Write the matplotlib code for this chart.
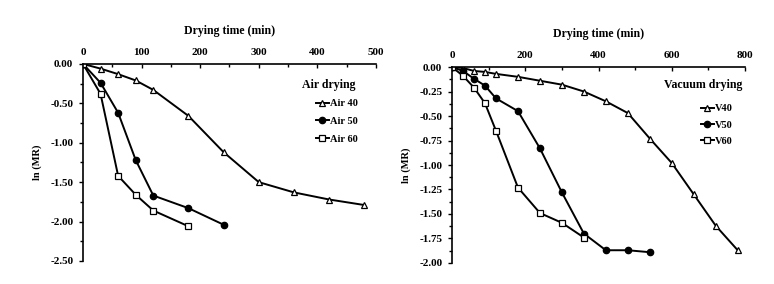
import matplotlib
matplotlib.use("Agg")
import matplotlib.pyplot as plt
from matplotlib.ticker import MultipleLocator, FormatStrFormatter

plt.rcParams['font.family'] = ['Liberation Serif', 'DejaVu Serif']
plt.rcParams['font.weight'] = 'bold'

# Air drying
t_air40 = [0, 30, 60, 90, 120, 180, 240, 300, 360, 420, 480]
air40 = [0, -0.06, -0.13, -0.21, -0.33, -0.66, -1.12, -1.50, -1.63, -1.72, -1.79]
t_air50 = [0, 30, 60, 90, 120, 180, 240]
air50 = [0, -0.24, -0.62, -1.22, -1.67, -1.83, -2.04]
t_air60 = [0, 30, 60, 90, 120, 180]
air60 = [0, -0.38, -1.42, -1.66, -1.86, -2.06]

# Vacuum drying
t_v40 = [0, 30, 60, 90, 120, 180, 240, 300, 360, 420, 480, 540, 600, 660, 720, 780]
v40 = [0, -0.01, -0.04, -0.05, -0.07, -0.10, -0.14, -0.18, -0.25, -0.35, -0.47,
       -0.73, -0.98, -1.30, -1.62, -1.87]
t_v50 = [0, 30, 60, 90, 120, 180, 240, 300, 360, 420, 480, 540]
v50 = [0, -0.04, -0.12, -0.19, -0.32, -0.45, -0.83, -1.28, -1.70, -1.87, -1.87, -1.89]
t_v60 = [0, 30, 60, 90, 120, 180, 240, 300, 360]
v60 = [0, -0.09, -0.21, -0.37, -0.65, -1.23, -1.49, -1.59, -1.74]

W, H = 774, 284
fig = plt.figure(figsize=(W / 100, H / 100), dpi=100)
ax1 = fig.add_axes([0.1072, 0.081, 0.3786, 0.694])
ax2 = fig.add_axes([0.584, 0.074, 0.3786, 0.690])

mk = dict(color='black', lw=1.4, markersize=4.6, markeredgewidth=0.9)


def style(ax, xmax, xmaj, ymin, ymaj):
    ax.set_xlim(0, xmax)
    ax.set_ylim(ymin, 0)
    for s in ['right', 'bottom']:
        ax.spines[s].set_visible(False)
    ax.spines['top'].set_linewidth(1.2)
    ax.spines['left'].set_linewidth(1.2)
    ax.xaxis.tick_top()
    ax.xaxis.set_label_position('top')
    ax.xaxis.set_major_locator(MultipleLocator(xmaj))
    ax.xaxis.set_minor_locator(MultipleLocator(xmaj / 2))
    ax.yaxis.set_major_locator(MultipleLocator(ymaj))
    ax.yaxis.set_minor_locator(MultipleLocator(ymaj / 2))
    ax.yaxis.set_major_formatter(FormatStrFormatter('%.2f'))
    ax.tick_params(axis='x', which='both', direction='in', labelsize=8, pad=5)
    ax.tick_params(axis='y', which='both', direction='out', labelsize=8, pad=4)
    ax.tick_params(which='major', length=3, width=1)
    ax.tick_params(which='minor', length=2, width=1)
    ax.set_xlabel('Drying time (min)', fontsize=8.5, fontweight='bold', labelpad=10)
    ax.set_ylabel('ln (MR)', fontsize=7.5, fontweight='bold', labelpad=6)


def add_legend(ax, title, title_right, entry_right, title_y, top_px, spacing):
    fig.text(title_right / W, 1 - title_y / H, title, fontsize=8.6, fontweight='bold',
             ha='right', va='center')
    ax.legend(loc='upper right', bbox_to_anchor=(entry_right / W, 1 - top_px / H),
              bbox_transform=fig.transFigure, frameon=False, fontsize=7.5,
              handlelength=1.3, handletextpad=0.1, labelspacing=spacing,
              borderpad=0, borderaxespad=0)


ax1.plot(t_air40, air40, marker='^', mfc='white', label='Air 40', **mk)
ax1.plot(t_air50, air50, marker='o', mfc='black', label='Air 50', **mk)
ax1.plot(t_air60, air60, marker='s', mfc='white', label='Air 60', **mk)
style(ax1, 500, 100, -2.5, 0.5)
add_legend(ax1, 'Air drying', 356, 358, 85, 99, 0.82)

ax2.plot(t_v40, v40, marker='^', mfc='white', label='V40', **mk)
ax2.plot(t_v50, v50, marker='o', mfc='black', label='V50', **mk)
ax2.plot(t_v60, v60, marker='s', mfc='white', label='V60', **mk)
style(ax2, 800, 200, -2.0, 0.25)
add_legend(ax2, 'Vacuum drying', 742, 733, 85, 104, 0.68)

fig.savefig('out.png', dpi=100)
